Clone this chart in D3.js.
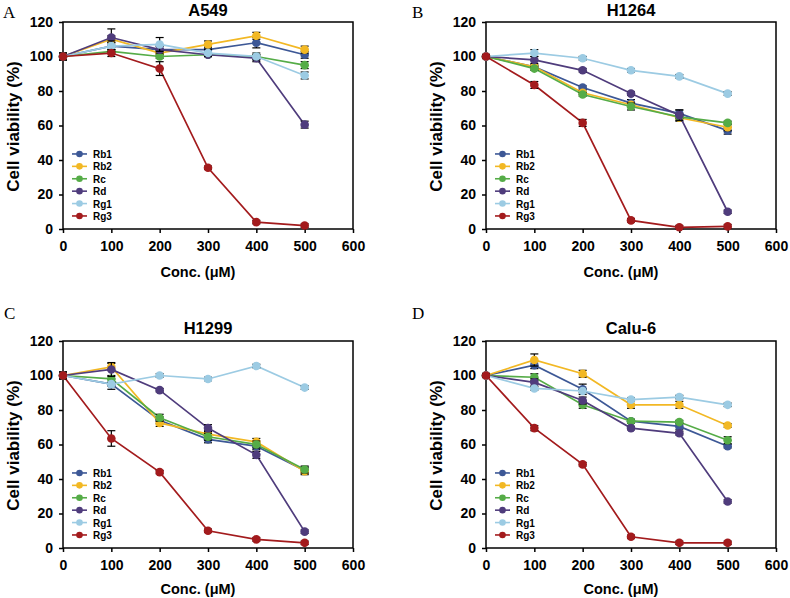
<!DOCTYPE html>
<html>
<head>
<meta charset="utf-8">
<script src="https://cdn.jsdelivr.net/npm/d3@7"></script>
<style>
  body { margin: 0; background: #fff; }
  svg { display: block; }
</style>
</head>
<body>
<div id="chart"></div>
<script>
// GLOBAL DATA
const concs = [0, 100, 200, 300, 400, 500];
const seriesNames = ["Rb1", "Rb2", "Rc", "Rd", "Rg1", "Rg3"];
const seriesColors = ["#3d5896", "#f2b824", "#55ac47", "#4f3c7c", "#9ccbe3", "#a31b1d"];
const xTicks = [0, 100, 200, 300, 400, 500, 600];
const yTicks = [0, 20, 40, 60, 80, 100, 120];

// cell line A549
const a549Values = [
    [100, 106, 104, 104, 108, 101],
    [100, 110, 102, 107, 112, 104],
    [100, 103, 100, 101, 100, 95],
    [100, 111, 104, 101, 99, 60.5],
    [100, 106, 107, 102, 100, 89],
    [100, 102, 93, 35.5, 4, 2]
];
const a549Errors = [
    [2, 2, 2, 2, 3, 2],
    [2, 2, 2, 2, 2, 2],
    [1, 1, 1, 1, 1, 2],
    [1, 5, 2, 1, 2, 2],
    [1, 3, 4, 2, 2, 2],
    [2, 2, 4, 1, 1, 1]
];

// cell line H1264
const h1264Values = [
    [100, 94, 82, 73, 67, 57],
    [100, 94, 79, 72, 64.5, 59],
    [100, 93, 78, 71, 65, 61.5],
    [100, 98, 92, 78.5, 66, 10],
    [100, 102, 99, 92, 88.5, 78.5],
    [100, 83.5, 61.5, 5, 1, 1.5]
];
const h1264Errors = [
    [1, 1, 1, 2, 2, 2],
    [1, 1, 1, 1, 2, 2],
    [1, 1, 1, 2, 1, 1],
    [1, 2, 1, 1, 3, 1],
    [1, 2, 1, 1, 1, 1],
    [1, 2, 2, 1, 1, 1]
];

// cell line H1299
const h1299Values = [
    [100, 95, 74, 63, 59, 45],
    [100, 105, 72.5, 66, 61.5, 44.5],
    [100, 98, 75.5, 64.5, 60, 45.5],
    [100, 103.5, 91.5, 69.5, 54, 9.5],
    [100, 95, 100, 98, 105.5, 93],
    [100, 63.5, 44, 10, 5, 3]
];
const h1299Errors = [
    [2, 3, 2, 2, 2, 2],
    [2, 2, 2, 2, 2, 2],
    [1, 2, 2, 2, 2, 2],
    [1, 4, 1, 2, 2, 1],
    [1, 1, 1, 1, 1, 1],
    [2, 4.5, 1, 1, 1, 1]
];

// cell line Calu-6
const calu6Values = [
    [100, 106, 92, 73.5, 70.5, 59],
    [100, 109, 101, 83, 83, 71],
    [100, 99, 83, 73.5, 73, 62.5],
    [100, 96, 85.5, 69.5, 66.5, 27],
    [100, 92.5, 91, 86, 87.5, 83],
    [100, 69.5, 48.5, 6.5, 3, 3]
];
const calu6Errors = [
    [1, 2, 3, 1, 2, 1],
    [1, 3.5, 2, 2, 2, 1],
    [1, 2, 2, 1, 1, 2],
    [1, 2, 2, 1, 1, 1],
    [1, 1, 1, 1, 1, 1],
    [1, 1.5, 1, 1, 1, 1]
];

const panels = [
    {letter: "A", title: "A549", values: a549Values, errors: a549Errors,
     left: 63, top: 22, letterX: 3, letterY: 18, titleY: -6, labelY: 48},
    {letter: "B", title: "H1264", values: h1264Values, errors: h1264Errors,
     left: 486, top: 22, letterX: 412, letterY: 18, titleY: -6, labelY: 48},
    {letter: "C", title: "H1299", values: h1299Values, errors: h1299Errors,
     left: 63, top: 341, letterX: 4, letterY: 319, titleY: -7, labelY: 46},
    {letter: "D", title: "Calu-6", values: calu6Values, errors: calu6Errors,
     left: 486, top: 341, letterX: 412, letterY: 319, titleY: -7, labelY: 46}
];

// ---------------------------------------------------------------------------------
// SET-UP
const width = 790;
const height = 598;
const plotWidth = 290;
const plotHeight = 207;
const font = "'Liberation Sans', Arial, sans-serif";

const svg = d3.select("#chart")
    .append("svg")
    .attr("width", width)
    .attr("height", height);

panels.forEach(function(p) {
    drawPanel(p);
});

// ---------------------------------------------------------------------------------
// DRAW ONE PANEL
function drawPanel(p) {
    const g = svg.append("g").attr("transform", `translate(${p.left},${p.top})`);

    const x = d3.scaleLinear().domain([0, 600]).range([0, plotWidth]);
    const y = d3.scaleLinear().domain([0, 120]).range([plotHeight, 0]);

    // panel letter (serif like the original figure)
    svg.append("text")
        .attr("x", p.letterX)
        .attr("y", p.letterY)
        .attr("font-family", "'Liberation Serif', 'DejaVu Serif', serif")
        .attr("font-size", 17)
        .text(p.letter);

    // title
    g.append("text")
        .attr("x", plotWidth / 2)
        .attr("y", p.titleY)
        .attr("text-anchor", "middle")
        .attr("font-family", font)
        .attr("font-weight", "bold")
        .attr("font-size", 16.5)
        .text(p.title);

    // axes
    const xAxis = g.append("g")
        .attr("transform", `translate(0,${plotHeight})`)
        .call(d3.axisBottom(x).tickValues(xTicks).tickSize(4).tickPadding(8));
    const yAxis = g.append("g")
        .call(d3.axisLeft(y).tickValues(yTicks).tickSize(4).tickPadding(6));

    [xAxis, yAxis].forEach(function(ax) {
        ax.select(".domain").remove();
        ax.selectAll("line").attr("stroke", "#000").attr("stroke-width", 1.5);
        ax.selectAll("text")
            .attr("font-family", font)
            .attr("font-weight", "bold")
            .attr("font-size", 14)
            .attr("fill", "#000");
    });

    // frame
    g.append("rect")
        .attr("width", plotWidth)
        .attr("height", plotHeight)
        .attr("fill", "none")
        .attr("stroke", "#000")
        .attr("stroke-width", 1.5);

    // axis labels
    g.append("text")
        .attr("x", plotWidth / 2 - 10)
        .attr("y", plotHeight + p.labelY)
        .attr("text-anchor", "middle")
        .attr("font-family", font)
        .attr("font-weight", "bold")
        .attr("font-size", 14.5)
        .text("Conc. (\u03bcM)");

    g.append("text")
        .attr("transform", `translate(-44,${plotHeight / 2 + 1}) rotate(-90)`)
        .attr("text-anchor", "middle")
        .attr("font-family", font)
        .attr("font-weight", "bold")
        .attr("font-size", 17)
        .text("Cell viability (%)");

    // series
    const line = d3.line()
        .x(function(d) { return x(d.c); })
        .y(function(d) { return y(d.v); });

    seriesNames.forEach(function(name, i) {
        const pts = concs.map(function(c, j) {
            return {c: c, v: p.values[i][j], e: p.errors[i][j]};
        });
        const sg = g.append("g");

        sg.append("path")
            .datum(pts)
            .attr("d", line)
            .attr("fill", "none")
            .attr("stroke", seriesColors[i])
            .attr("stroke-width", 1.7);

        // error bars
        const eb = sg.selectAll(".err")
            .data(pts)
            .enter()
            .append("g");
        eb.append("line")
            .attr("x1", function(d) { return x(d.c); })
            .attr("x2", function(d) { return x(d.c); })
            .attr("y1", function(d) { return y(d.v + d.e); })
            .attr("y2", function(d) { return y(d.v - d.e); })
            .attr("stroke", "#000")
            .attr("stroke-width", 1.2);
        [1, -1].forEach(function(s) {
            eb.append("line")
                .attr("x1", function(d) { return x(d.c) - 4; })
                .attr("x2", function(d) { return x(d.c) + 4; })
                .attr("y1", function(d) { return y(d.v + s * d.e); })
                .attr("y2", function(d) { return y(d.v + s * d.e); })
                .attr("stroke", "#000")
                .attr("stroke-width", 1.2);
        });

        sg.selectAll("circle")
            .data(pts)
            .enter()
            .append("circle")
            .attr("cx", function(d) { return x(d.c); })
            .attr("cy", function(d) { return y(d.v); })
            .attr("r", 4.3)
            .attr("fill", seriesColors[i]);
    });

    // legend
    const legend = g.append("g")
        .attr("transform", `translate(9,${y(43.5)})`);
    seriesNames.forEach(function(name, i) {
        const row = legend.append("g").attr("transform", `translate(0,${i * 12.4})`);
        row.append("line")
            .attr("x1", 0)
            .attr("x2", 15)
            .attr("stroke", seriesColors[i])
            .attr("stroke-width", 1.6);
        row.append("circle")
            .attr("cx", 7.5)
            .attr("r", 3.3)
            .attr("fill", seriesColors[i]);
        row.append("text")
            .attr("x", 21)
            .attr("y", 4)
            .attr("font-family", font)
            .attr("font-weight", "bold")
            .attr("font-size", 10)
            .text(name);
    });
}
</script>
</body>
</html>
